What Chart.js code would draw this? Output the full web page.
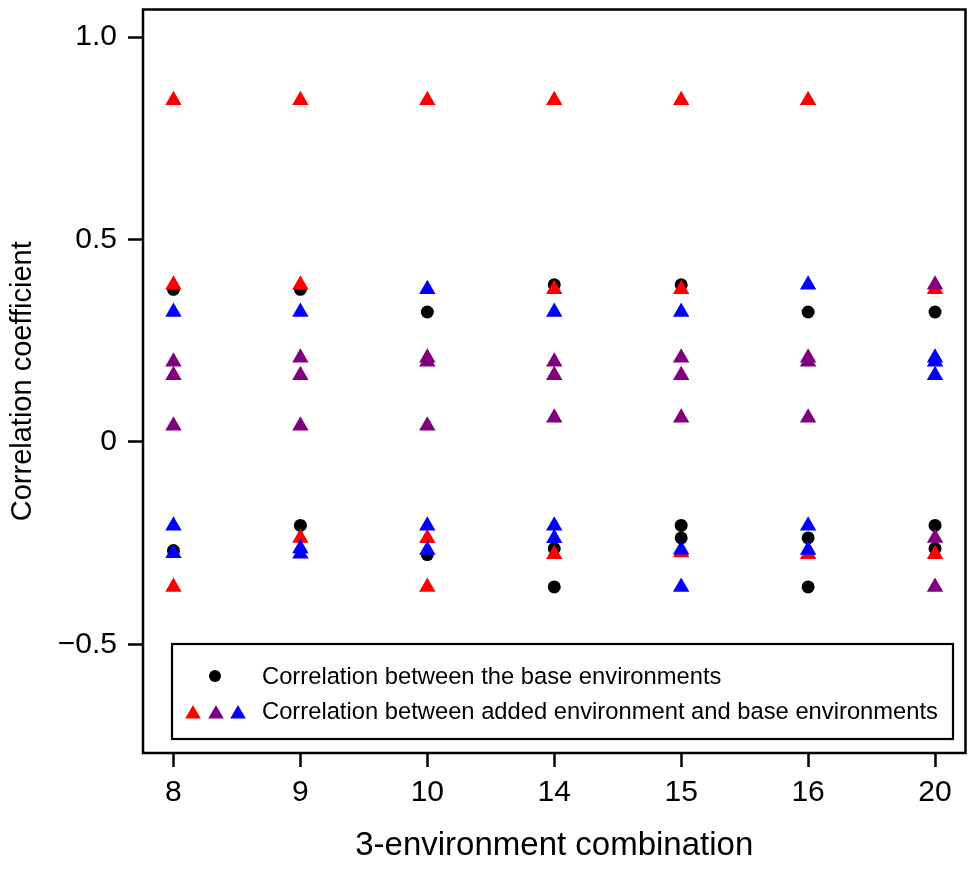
<!DOCTYPE html>
<html>
<head>
<meta charset="utf-8">
<script src="https://cdn.jsdelivr.net/npm/chart.js@4.4.1/dist/chart.umd.min.js"></script>
<style>
  html, body { margin: 0; padding: 0; background: #ffffff; }
  #wrap { width: 975px; height: 870px; }
</style>
</head>
<body>
<div id="wrap"><canvas id="c" width="975" height="870"></canvas></div>
<script>
// ---- data ----
const categories = ['8', '9', '10', '14', '15', '16', '20'];
const yTickValues = [-0.5, 0, 0.5, 1.0];
const yTickLabels = ['\u22120.5', '0', '0.5', '1.0'];

// Correlation between the base environments (black dots), per combination
const baseCorr = [
  [0.377, -0.268],
  [0.377, -0.206],
  [0.321, -0.278],
  [0.388, -0.263, -0.358],
  [0.388, -0.206, -0.237],
  [0.321, -0.237, -0.358],
  [0.321, -0.206, -0.263]
];
// Correlation between added environment and base environments (triangles)
const addedRed = [
  [0.844, 0.388, -0.358],
  [0.844, 0.388, -0.237],
  [0.844, -0.238, -0.358],
  [0.844, 0.377, -0.277],
  [0.844, 0.377, -0.273],
  [0.844, -0.277],
  [0.377, -0.277]
];
const addedPurple = [
  [0.198, 0.165, 0.040],
  [0.208, 0.165, 0.040],
  [0.208, 0.198, 0.040],
  [0.198, 0.165, 0.060],
  [0.208, 0.165, 0.060],
  [0.208, 0.198, 0.060],
  [0.388, -0.237, -0.358]
];
const addedBlue = [
  [0.321, -0.207, -0.275],
  [0.321, -0.263, -0.276],
  [0.377, -0.207, -0.267],
  [0.321, -0.207, -0.238],
  [0.321, -0.266, -0.358],
  [0.388, -0.207, -0.267],
  [0.208, 0.198, 0.165]
];

const legendLabels = [
  'Correlation between the base environments',
  'Correlation between added environment and base environments'
];
const xTitle = '3-environment combination';
const yTitle = 'Correlation coefficient';

// ---- helpers ----
const FONT = '"Liberation Sans", Arial, Helvetica, sans-serif';
const toPoints = arr => arr.flatMap((vals, i) => vals.map(v => ({ x: i, y: v })));

function ds(label, arr, color, style, radius, order) {
  return {
    label: label,
    data: toPoints(arr),
    pointStyle: style,
    pointRadius: radius,
    pointHoverRadius: radius,
    pointBackgroundColor: color,
    pointBorderColor: color,
    pointBorderWidth: 0,
    showLine: false,
    order: order
  };
}

function noPad(s) {
  s.paddingTop = 0; s.paddingBottom = 0; s.paddingLeft = 0; s.paddingRight = 0;
}

const boxPlugin = {
  id: 'boxAndLegend',
  afterDraw(chart) {
    const ctx = chart.ctx;
    const a = chart.chartArea;
    ctx.save();
    // plot frame
    ctx.strokeStyle = '#000';
    ctx.lineWidth = 2.5;
    ctx.strokeRect(a.left, a.top, a.right - a.left, a.bottom - a.top);

    // legend box
    const lx = 172, ly = 644, lw = 953 - 172, lh = 739 - 644;
    ctx.fillStyle = '#fff';
    ctx.fillRect(lx, ly, lw, lh);
    ctx.lineWidth = 2.2;
    ctx.strokeRect(lx, ly, lw, lh);

    // symbols
    ctx.fillStyle = '#000';
    ctx.beginPath();
    ctx.arc(215, 676, 6, 0, Math.PI * 2);
    ctx.fill();
    const tri = (cx, cy, r, col) => {
      ctx.fillStyle = col;
      ctx.beginPath();
      for (let k = 0; k < 3; k++) {
        const ang = k * 2 * Math.PI / 3;
        const px = cx + Math.sin(ang) * r;
        const py = cy - Math.cos(ang) * r;
        if (k === 0) ctx.moveTo(px, py); else ctx.lineTo(px, py);
      }
      ctx.closePath();
      ctx.fill();
    };
    tri(193, 714, 9, '#ff0000');
    tri(216, 714, 9, '#800080');
    tri(238, 714, 9, '#0000ff');

    // text, fitted to the reference width
    ctx.fillStyle = '#000';
    ctx.textBaseline = 'middle';
    ctx.textAlign = 'left';
    ctx.font = '20px ' + FONT;
    const w = ctx.measureText(legendLabels[1]).width;
    const size = 20 * 676 / w;
    ctx.font = size.toFixed(2) + 'px ' + FONT;
    ctx.fillText(legendLabels[0], 262, 677);
    ctx.fillText(legendLabels[1], 262, 712);
    ctx.restore();
  }
};

new Chart(document.getElementById('c'), {
  type: 'scatter',
  data: {
    datasets: [
      ds('base', baseCorr, '#000000', 'circle', 6.5, 4),
      ds('red', addedRed, '#ff0000', 'triangle', 9.5, 3),
      ds('purple', addedPurple, '#800080', 'triangle', 9.5, 2),
      ds('blue', addedBlue, '#0000ff', 'triangle', 9.5, 1)
    ]
  },
  options: {
    responsive: false,
    animation: false,
    events: [],
    layout: { padding: { top: 7, right: 7, left: 0, bottom: 0 } },
    plugins: { legend: { display: false }, tooltip: { enabled: false } },
    scales: {
      x: {
        type: 'linear',
        position: 'bottom',
        min: -0.24,
        max: 6.24,
        afterBuildTicks: s => { s.ticks = categories.map((_, i) => ({ value: i })); },
        afterFit: s => { s.height = 117; noPad(s); },
        ticks: {
          autoSkip: false,
          maxRotation: 0,
          padding: 8,
          color: '#000',
          font: { family: FONT, size: 30 },
          callback: (v, i) => categories[i]
        },
        grid: {
          drawOnChartArea: false,
          drawTicks: true,
          tickLength: 14,
          tickWidth: 2.5,
          tickColor: '#000'
        },
        border: { display: false },
        title: {
          display: true,
          text: xTitle,
          color: '#000',
          font: { family: FONT, size: 33 },
          padding: { top: 0, bottom: 4 }
        }
      },
      y: {
        type: 'linear',
        position: 'left',
        min: -0.768,
        max: 1.068,
        afterBuildTicks: s => { s.ticks = yTickValues.map(v => ({ value: v })); },
        afterFit: s => { s.width = 143; noPad(s); },
        ticks: {
          autoSkip: false,
          padding: 11,
          color: '#000',
          font: { family: FONT, size: 30 },
          callback: (v, i) => yTickLabels[i]
        },
        grid: {
          drawOnChartArea: false,
          drawTicks: true,
          tickLength: 15,
          tickWidth: 2.5,
          tickColor: '#000'
        },
        border: { display: false },
        title: {
          display: true,
          text: yTitle,
          color: '#000',
          font: { family: FONT, size: 29 },
          padding: { top: 6, bottom: 0 }
        }
      }
    }
  },
  plugins: [boxPlugin]
});
</script>
</body>
</html>
